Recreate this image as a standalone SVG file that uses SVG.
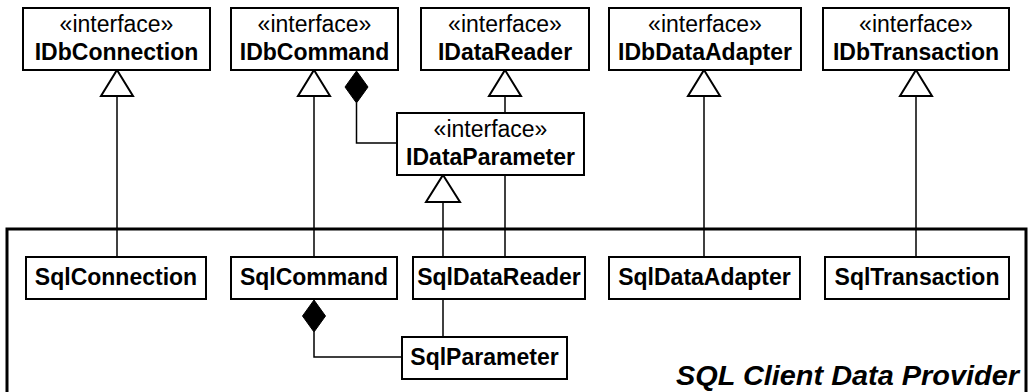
<svg xmlns="http://www.w3.org/2000/svg" width="1032" height="392" viewBox="0 0 1032 392">
<style>
.box{fill:#fff;stroke:#000;stroke-width:2}
.st{font-family:"Liberation Sans",Arial,sans-serif;font-size:23px;text-anchor:middle}
.nm{font-family:"Liberation Sans",Arial,sans-serif;font-size:23px;font-weight:bold;text-anchor:middle}
.ln{fill:none;stroke:#000;stroke-width:1.5}
.tri{fill:#fff;stroke:#000;stroke-width:2}
.dia{fill:#000;stroke:#000;stroke-width:1}
.frame{fill:none;stroke:#000;stroke-width:3}
.title{font-family:"Liberation Sans",Arial,sans-serif;font-size:27px;font-weight:bold;font-style:italic;text-anchor:end}
</style>
<rect width="1032" height="392" fill="#fff"/>
<g id="package">
<path class="frame" d="M7,400 V229 H1026 V400"/>
<text class="title" x="1019" y="385" textLength="343" lengthAdjust="spacingAndGlyphs">SQL Client Data Provider</text>
</g>
<g id="connectors">
<path class="ln" d="M117,96 V257"/>
<path class="ln" d="M314,96 V257"/>
<path class="ln" d="M356.5,103 V143 H397"/>
<path class="ln" d="M505,96 V113"/>
<path class="ln" d="M505,175 V257"/>
<path class="ln" d="M443,202 V257"/>
<path class="ln" d="M443,299 V337"/>
<path class="ln" d="M314,332 V357 H402"/>
<path class="ln" d="M704,96 V257"/>
<path class="ln" d="M916,96 V257"/>
<polygon class="tri" points="117,70 133,96 101,96"/>
<polygon class="tri" points="314,70 330,96 298,96"/>
<polygon class="tri" points="505,70 521,96 489,96"/>
<polygon class="tri" points="443,175 460,202 426,202"/>
<polygon class="tri" points="704,70 720,96 688,96"/>
<polygon class="tri" points="916,70 932,96 900,96"/>
<polygon class="dia" points="356.5,71 368,87 356.5,103 345,87"/>
<polygon class="dia" points="314,300 325.5,316 314,332 302.5,316"/>
</g>
<g id="IDbConnection"><rect class="box" x="23" y="8" width="187" height="62"/><text class="st" x="116.5" y="32">«interface»</text><text class="nm" x="116.5" y="60">IDbConnection</text></g>
<g id="IDbCommand"><rect class="box" x="231" y="8" width="167" height="62"/><text class="st" x="314.5" y="32">«interface»</text><text class="nm" x="314.5" y="60">IDbCommand</text></g>
<g id="IDataReader"><rect class="box" x="421" y="8" width="168" height="62"/><text class="st" x="505" y="32">«interface»</text><text class="nm" x="505" y="60">IDataReader</text></g>
<g id="IDbDataAdapter"><rect class="box" x="609" y="8" width="192" height="62"/><text class="st" x="705" y="32">«interface»</text><text class="nm" x="705" y="60">IDbDataAdapter</text></g>
<g id="IDbTransaction"><rect class="box" x="823" y="8" width="186" height="62"/><text class="st" x="916" y="32">«interface»</text><text class="nm" x="916" y="60">IDbTransaction</text></g>
<g id="IDataParameter"><rect class="box" x="397" y="113" width="187" height="62"/><text class="st" x="490.5" y="137">«interface»</text><text class="nm" x="490.5" y="165">IDataParameter</text></g>
<g id="SqlConnection"><rect class="box" x="26" y="257" width="180" height="42"/><text class="nm" x="116" y="285">SqlConnection</text></g>
<g id="SqlCommand"><rect class="box" x="231" y="257" width="166" height="42"/><text class="nm" x="314" y="285">SqlCommand</text></g>
<g id="SqlDataReader"><rect class="box" x="413" y="257" width="172" height="42"/><text class="nm" x="499" y="285">SqlDataReader</text></g>
<g id="SqlDataAdapter"><rect class="box" x="609" y="257" width="191" height="42"/><text class="nm" x="704.5" y="285">SqlDataAdapter</text></g>
<g id="SqlTransaction"><rect class="box" x="825" y="257" width="184" height="42"/><text class="nm" x="917" y="285">SqlTransaction</text></g>
<g id="SqlParameter"><rect class="box" x="402" y="337" width="165" height="42"/><text class="nm" x="484.5" y="365">SqlParameter</text></g>
</svg>
